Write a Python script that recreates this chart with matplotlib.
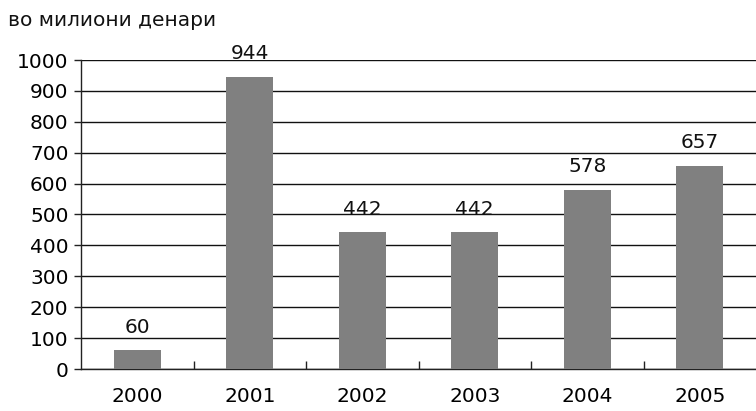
import matplotlib
matplotlib.use("Agg")
import matplotlib.pyplot as plt
import numpy as np

years = ["2000", "2001", "2002", "2003", "2004", "2005"]
values = [60, 944, 442, 442, 578, 657]
yticks = [0, 100, 200, 300, 400, 500, 600, 700, 800, 900, 1000]
title = "во милиони денари"

plt.rcParams['font.family'] = ['DejaVu Sans']
FS = 14.5
fig = plt.figure(figsize=(7.56, 4.11), dpi=100)
ax = fig.add_axes([81/756, (411-369)/411, (756-81)/756, (369-60)/411])

x = np.arange(len(years))
ax.bar(x, values, width=0.42, color="#808080", zorder=3)
for xi, v in zip(x, values):
    ax.text(xi, v + 45, str(v), ha="center", va="bottom", fontsize=FS, color="#111111")

ax.set_xlim(-0.5, len(years) - 0.5)
ax.set_ylim(0, 1000)
ax.set_yticks(yticks)
ax.set_yticklabels([str(t) for t in yticks], fontsize=FS)
ax.set_xticks(x)
ax.set_xticklabels(years, fontsize=FS)
ax.tick_params(axis="x", length=0, pad=13)
ax.set_xticks(np.arange(0.5, len(years) - 0.5, 1), minor=True)
ax.tick_params(axis="x", which="minor", direction="in", length=6, width=1, color="#222222")
ax.tick_params(axis="y", direction="out", length=5, width=1, color="#222222", pad=4)

for t in yticks:
    ax.axhline(t, color="#111111", linewidth=1, zorder=1)

for s in ["top", "right"]:
    ax.spines[s].set_visible(False)
ax.spines["left"].set_color("#222222")
ax.spines["left"].set_linewidth(1)
ax.spines["bottom"].set_color("#222222")
ax.spines["bottom"].set_linewidth(1)

fig.text(8/756, 1 - 21/411, title, ha="left", va="center", fontsize=FS, color="#111111")

fig.savefig("out.png", dpi=100)
